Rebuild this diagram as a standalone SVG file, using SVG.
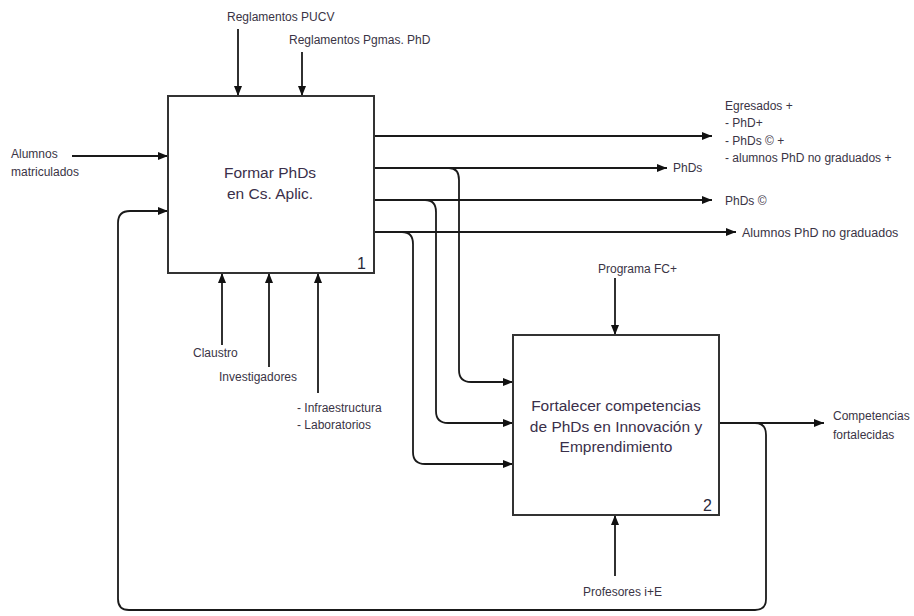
<svg xmlns="http://www.w3.org/2000/svg" width="914" height="616" viewBox="0 0 914 616">
  <style>
    .box { fill: #ffffff; stroke: #333333; stroke-width: 2; }
    .wire { fill: none; stroke: #1a1a1a; stroke-width: 1.8; }
    .title { font-family: "Liberation Sans", Arial, sans-serif; font-size: 15.5px; fill: #3a2f4a; text-anchor: middle; }
    .num { font-family: "Liberation Sans", Arial, sans-serif; font-size: 16px; fill: #2a2a3a; text-anchor: end; }
    .lbl { font-family: "Liberation Sans", Arial, sans-serif; font-size: 12px; fill: #3a3445; }
  </style>
  <defs>
    <marker id="arrow" viewBox="0 0 10 8" refX="10" refY="4" markerWidth="10" markerHeight="8" markerUnits="userSpaceOnUse" orient="auto">
      <path d="M0,0 L10,4 L0,8 z" fill="#111111"/>
    </marker>
  </defs>

  <rect width="914" height="616" fill="#ffffff"/>

  <!-- connectors -->
  <g id="connectors">
    <!-- controls into activity 1 -->
    <line class="wire" x1="238" y1="29" x2="238" y2="96" marker-end="url(#arrow)"/>
    <line class="wire" x1="302" y1="52" x2="302" y2="96" marker-end="url(#arrow)"/>
    <!-- input into activity 1 -->
    <line class="wire" x1="72" y1="156" x2="168" y2="156" marker-end="url(#arrow)"/>
    <!-- mechanisms into activity 1 -->
    <line class="wire" x1="222" y1="345" x2="222" y2="273" marker-end="url(#arrow)"/>
    <line class="wire" x1="269" y1="367" x2="269" y2="273" marker-end="url(#arrow)"/>
    <line class="wire" x1="318" y1="393" x2="318" y2="273" marker-end="url(#arrow)"/>
    <!-- outputs of activity 1 -->
    <line class="wire" x1="374" y1="136" x2="712" y2="136" marker-end="url(#arrow)"/>
    <line class="wire" x1="374" y1="168" x2="667" y2="168" marker-end="url(#arrow)"/>
    <line class="wire" x1="374" y1="200" x2="712" y2="200" marker-end="url(#arrow)"/>
    <line class="wire" x1="374" y1="232" x2="736" y2="232" marker-end="url(#arrow)"/>
    <!-- branches into activity 2 -->
    <path class="wire" d="M449,168 Q459,168 459,180 L459,370 Q459,382 471,382 L513,382" marker-end="url(#arrow)"/>
    <path class="wire" d="M425,200 Q436,200 436,212 L436,411 Q436,423 448,423 L513,423" marker-end="url(#arrow)"/>
    <path class="wire" d="M402,232 Q413,232 413,244 L413,452 Q413,464 425,464 L513,464" marker-end="url(#arrow)"/>
    <!-- control and mechanism of activity 2 -->
    <line class="wire" x1="615" y1="278" x2="615" y2="335" marker-end="url(#arrow)"/>
    <line class="wire" x1="615" y1="576" x2="615" y2="515" marker-end="url(#arrow)"/>
    <!-- output of activity 2 -->
    <line class="wire" x1="719" y1="423" x2="824" y2="423" marker-end="url(#arrow)"/>
    <!-- feedback loop back to activity 1 -->
    <path class="wire" d="M755,423 Q766,423 766,435 L766,599 Q766,610 755,610 L129,610 Q118,610 118,599 L118,223 Q118,211 130,211 L168,211" marker-end="url(#arrow)"/>
  </g>

  <!-- activity 1 -->
  <g id="node-formar">
    <rect class="box" x="168" y="96" width="206" height="177"/>
    <text class="title" x="270" y="178">Formar PhDs</text>
    <text class="title" x="270" y="199">en Cs. Aplic.</text>
    <text class="num" x="366" y="269">1</text>
  </g>

  <!-- activity 2 -->
  <g id="node-fortalecer">
    <rect class="box" x="513" y="335" width="206" height="180"/>
    <text class="title" x="616" y="411">Fortalecer competencias</text>
    <text class="title" x="616" y="432">de PhDs en Innovación y</text>
    <text class="title" x="616" y="452">Emprendimiento</text>
    <text class="num" x="712" y="511">2</text>
  </g>

  <!-- labels -->
  <g id="label-reglamentos-pucv"><text class="lbl" x="227" y="21">Reglamentos PUCV</text></g>
  <g id="label-reglamentos-pgmas"><text class="lbl" x="289" y="44">Reglamentos Pgmas. PhD</text></g>
  <g id="label-alumnos">
    <text class="lbl" x="11" y="158">Alumnos</text>
    <text class="lbl" x="11" y="176">matriculados</text>
  </g>
  <g id="label-egresados">
    <text class="lbl" x="725" y="110">Egresados +</text>
    <text class="lbl" x="725" y="127">-  PhD+</text>
    <text class="lbl" x="725" y="145">-  PhDs © +</text>
    <text class="lbl" x="725" y="162">-  alumnos PhD no graduados +</text>
  </g>
  <g id="label-phds"><text class="lbl" x="673" y="172">PhDs</text></g>
  <g id="label-phds-c"><text class="lbl" x="725" y="205">PhDs ©</text></g>
  <g id="label-no-graduados"><text class="lbl" x="742" y="237" style="font-size:12.5px">Alumnos PhD no graduados</text></g>
  <g id="label-claustro"><text class="lbl" x="193" y="357">Claustro</text></g>
  <g id="label-investigadores"><text class="lbl" x="219" y="381">Investigadores</text></g>
  <g id="label-infraestructura">
    <text class="lbl" x="297" y="412">- Infraestructura</text>
    <text class="lbl" x="297" y="429">- Laboratorios</text>
  </g>
  <g id="label-programa"><text class="lbl" x="598" y="273">Programa FC+</text></g>
  <g id="label-profesores"><text class="lbl" x="583" y="596">Profesores i+E</text></g>
  <g id="label-competencias">
    <text class="lbl" x="833" y="420">Competencias</text>
    <text class="lbl" x="833" y="439">fortalecidas</text>
  </g>
</svg>
